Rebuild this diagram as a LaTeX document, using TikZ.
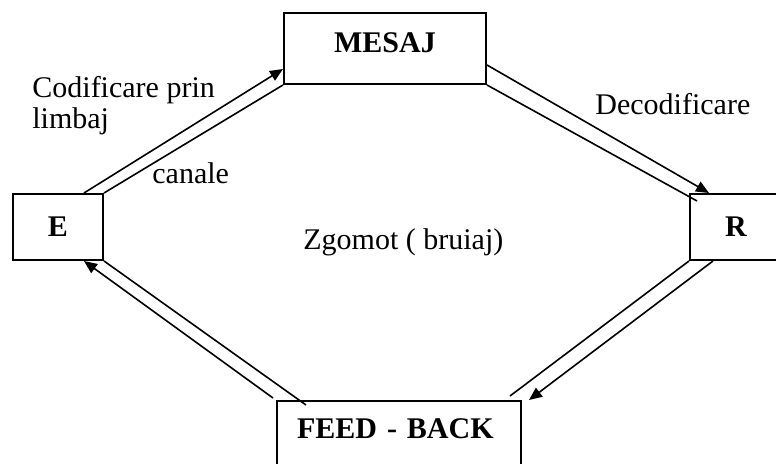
\documentclass[tikz,border=0pt]{standalone}
\usepackage{fontspec}
\setmainfont{Liberation Serif}
\usetikzlibrary{arrows.meta}
\begin{document}
\begin{tikzpicture}[x=0.5pt,y=-0.5pt,
    every node/.style={font=\fontsize{15pt}{15.5pt}\selectfont},
    box/.style={draw,line width=1pt,inner sep=0pt,anchor=north west,
        font=\fontsize{15pt}{15.5pt}\selectfont\bfseries},
    lbl/.style={inner sep=0pt,anchor=base west},
    conn/.style={line width=0.8pt},
    tip/.style={conn,-{Triangle[length=6.5pt,width=5.5pt]}}]
    \useasboundingbox (0,0) rectangle (776,464);
    \node[box,minimum width=101pt,text height=20pt,text depth=15.5pt] (mesaj) at (283,12) {MESAJ};
    \node[box,minimum width=45pt,minimum height=33pt] (e) at (12,193) {E};
    \node[box,minimum width=46pt,minimum height=33pt] (r) at (689,193) {R};
    \node[box,inner xsep=10pt,text width=102pt,align=left,text height=18.5pt,text depth=16.5pt] (feed) at (276,400) {FEED - BACK};
    \draw[tip] ([xshift=-10pt]e.north east) -- ([yshift=8pt]mesaj.south west);
    \draw[conn] (e.north east) -- (mesaj.south west);
    \draw[tip] ([yshift=10pt]mesaj.south east) -- ([xshift=10pt]r.north west);
    \draw[conn] (mesaj.south east) -- ([xshift=4pt,yshift=-4pt]r.north west);
    \draw[conn] (r.south west) -- ([xshift=-6pt,yshift=2pt]feed.north east);
    \draw[tip] ([xshift=12pt]r.south west) -- ([xshift=3.5pt]feed.north east);
    \draw[conn] ([xshift=15pt,yshift=-2.5pt]feed.north west) -- (e.south east);
    \draw[tip] ([xshift=-1.5pt,yshift=1pt]feed.north west) -- ([xshift=-10pt]e.south east);
    \node[lbl,anchor=north west,align=left] (cod) at (32,76) {Codificare prin\\limbaj};
    \node[lbl] (canale) at (152,184) {canale};
    \node[lbl] (decod) at (595,115) {Decodificare};
    \node[lbl] (zgomot) at (303,250) {Zgomot ( bruiaj)};
\end{tikzpicture}
\end{document}
